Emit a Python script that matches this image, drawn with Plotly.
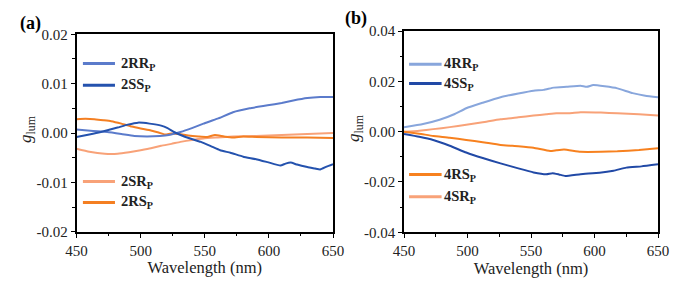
import plotly.graph_objects as go

# ---------------- data ----------------
# panel (a)
wl_2RR = [450, 463, 474, 485, 495, 505, 515, 522, 531, 540, 549, 560, 572, 585, 599, 610, 619, 630, 640, 650]
v_2RR = [0.0007, 0.0004, 0.0002, -0.0002, -0.0006, -0.0007, -0.0006, -0.0004, 0.0002, 0.0010, 0.0019, 0.0029, 0.0042, 0.0050, 0.0056, 0.0061, 0.0066, 0.0071, 0.0073, 0.0073]

wl_2SS = [450, 460, 469, 482, 490, 498, 507, 516, 521, 526, 535, 547, 555, 562, 570, 580, 590, 599, 609, 613, 617, 622, 630, 636, 640, 645, 650]
v_2SS = [-0.0008, -0.0003, 0.0002, 0.0011, 0.0017, 0.0021, 0.0019, 0.0015, 0.0010, 0.0002, -0.0008, -0.0018, -0.0027, -0.0035, -0.0040, -0.0048, -0.0053, -0.0059, -0.0066, -0.0062, -0.0060, -0.0064, -0.0069, -0.0072, -0.0074, -0.0068, -0.0063]

wl_2SR = [450, 460, 472, 482, 491, 500, 508, 516, 524, 531, 540, 549, 560, 572, 590, 610, 630, 650]
v_2SR = [-0.0032, -0.0038, -0.0042, -0.0042, -0.0039, -0.0035, -0.0031, -0.0026, -0.0022, -0.0018, -0.0014, -0.0011, -0.0009, -0.0007, -0.0006, -0.0004, -0.0002, 0.0000]

wl_2RS = [450, 457, 464, 471, 477, 485, 493, 500, 508, 514, 519, 524, 530, 537, 545, 552, 558, 565, 572, 580, 590, 610, 630, 650]
v_2RS = [0.0028, 0.0029, 0.0028, 0.0026, 0.0024, 0.0019, 0.0013, 0.0009, 0.0005, 0.0001, -0.0003, -0.0001, -0.0002, -0.0005, -0.0007, -0.0008, -0.0004, -0.0007, -0.0009, -0.0007, -0.0008, -0.0009, -0.0009, -0.0010]

# panel (b)
wl_4RR = [450, 465, 478, 490, 499, 512, 526, 540, 552, 560, 568, 578, 589, 594, 599, 608, 618, 630, 640, 650]
v_4RR = [0.0017, 0.0030, 0.0047, 0.0070, 0.0093, 0.0115, 0.0137, 0.0152, 0.0163, 0.0166, 0.0175, 0.0178, 0.0182, 0.0178, 0.0185, 0.0180, 0.0172, 0.0153, 0.0143, 0.0137]

wl_4SS = [450, 462, 473, 486, 499, 512, 526, 540, 552, 562, 567, 572, 577, 589, 604, 615, 625, 637, 650]
v_4SS = [-0.0009, -0.0020, -0.0033, -0.0056, -0.0083, -0.0105, -0.0126, -0.0146, -0.0162, -0.0169, -0.0165, -0.0170, -0.0176, -0.0169, -0.0163, -0.0155, -0.0143, -0.0138, -0.0130]

wl_4RS = [450, 462, 473, 486, 499, 512, 526, 540, 552, 565, 570, 576, 589, 605, 618, 635, 650]
v_4RS = [0.0000, -0.0008, -0.0017, -0.0024, -0.0033, -0.0042, -0.0053, -0.0058, -0.0064, -0.0077, -0.0074, -0.0071, -0.0080, -0.0080, -0.0078, -0.0073, -0.0066]

wl_4SR = [450, 462, 473, 486, 499, 512, 526, 540, 552, 562, 570, 580, 589, 605, 618, 635, 650]
v_4SR = [0.0000, 0.0004, 0.0010, 0.0018, 0.0027, 0.0037, 0.0049, 0.0057, 0.0064, 0.0069, 0.0073, 0.0073, 0.0077, 0.0076, 0.0073, 0.0069, 0.0064]

x_ticks = [450, 500, 550, 600, 650]
ya_ticks = [-0.02, -0.01, 0.0, 0.01, 0.02]
ya_labels = ["-0.02", "-0.01", "0.00", "0.01", "0.02"]
yb_ticks = [-0.04, -0.02, 0.0, 0.02, 0.04]
yb_labels = ["-0.04", "-0.02", "0.00", "0.02", "0.04"]

C_2RR = "#5B7BCB"
C_2SS = "#2452AE"
C_2SR = "#F8A278"
C_2RS = "#F47F22"
C_4RR = "#88A6DC"
C_4SS = "#2149A6"
C_4RS = "#F7811F"
C_4SR = "#F8A278"

FONT = "Times New Roman"

# the page body has an 8px margin; the figure is sized to fill the rest of the window
W, H = 676, 280
OFF = 8


def fx(px):
    return (px - OFF) / W


def fy(py):
    return 1 - (py - OFF) / H


fig = go.Figure()


def add(x, y, color, xa, ya):
    fig.add_trace(go.Scatter(x=x, y=y, mode="lines", line=dict(color=color, width=2, shape="spline", smoothing=0.4),
                             xaxis=xa, yaxis=ya, showlegend=False, hoverinfo="skip"))


add(wl_2SR, v_2SR, C_2SR, "x", "y")
add(wl_2RS, v_2RS, C_2RS, "x", "y")
add(wl_2RR, v_2RR, C_2RR, "x", "y")
add(wl_2SS, v_2SS, C_2SS, "x", "y")

add(wl_4SR, v_4SR, C_4SR, "x2", "y2")
add(wl_4RS, v_4RS, C_4RS, "x2", "y2")
add(wl_4RR, v_4RR, C_4RR, "x2", "y2")
add(wl_4SS, v_4SS, C_4SS, "x2", "y2")

axis_common = dict(showline=True, linecolor="black", linewidth=1.6, mirror=True, ticks="outside",
                   ticklen=4, tickwidth=1.4, tickcolor="black", showgrid=False, zeroline=False,
                   automargin=False, tickfont=dict(family=FONT, size=15, color="#222"))

xa_common = dict(axis_common, range=[450, 650], tickvals=x_ticks,
                 minor=dict(ticks="outside", ticklen=2.5, tickwidth=1.2, tickcolor="black", dtick=25, showgrid=False))

fig.update_layout(
    width=W, height=H, margin=dict(l=0, r=0, t=0, b=0, autoexpand=False),
    paper_bgcolor="white", plot_bgcolor="white",
    font=dict(family=FONT),
    xaxis=dict(xa_common, domain=[fx(76.5), fx(333)], anchor="y",
               title=dict(text="Wavelength (nm)", font=dict(family=FONT, size=16.5, color="#222"), standoff=4)),
    yaxis=dict(axis_common, domain=[fy(231.7), fy(34.3)], anchor="x", range=[-0.02, 0.02],
               tickvals=ya_ticks, ticktext=ya_labels,
               minor=dict(ticks="outside", ticklen=2.5, tickwidth=1.2, tickcolor="black", dtick=0.005, showgrid=False)),
    xaxis2=dict(xa_common, domain=[fx(404), fx(658)], anchor="y2",
                title=dict(text="Wavelength (nm)", font=dict(family=FONT, size=16.5, color="#222"), standoff=4)),
    yaxis2=dict(axis_common, domain=[fy(232.3), fy(31)], anchor="x2", range=[-0.04, 0.04],
                tickvals=yb_ticks, ticktext=yb_labels,
                minor=dict(ticks="outside", ticklen=2.5, tickwidth=1.2, tickcolor="black", dtick=0.01, showgrid=False)),
)

# legends (sample lines + text inside each panel)
legend_a = [("2RR", C_2RR, 0.852), ("2SS", C_2SS, 0.742), ("2SR", C_2SR, 0.254), ("2RS", C_2RS, 0.148)]
legend_b = [("4RR", C_4RR, 0.835), ("4SS", C_4SS, 0.739), ("4RS", C_4RS, 0.287), ("4SR", C_4SR, 0.176)]


def legend(entries, xr, yr, x0, x1, xt):
    for name, col, yy in entries:
        fig.add_shape(type="line", xref=xr, yref=yr, x0=x0, x1=x1, y0=yy, y1=yy,
                      line=dict(color=col, width=3))
        fig.add_annotation(xref=xr, yref=yr, x=xt, y=yy, xanchor="left", yanchor="middle",
                           text="<b>%s<sub>P</sub></b>" % name, showarrow=False,
                           font=dict(family=FONT, size=14.5, color="#222"))


legend(legend_a, "x domain", "y domain", 0.025, 0.15, 0.165)
legend(legend_b, "x2 domain", "y2 domain", 0.02, 0.148, 0.15)

# panel letters
fig.add_annotation(xref="paper", yref="paper", x=fx(30), y=fy(23), text="<b>(a)</b>",
                   xanchor="center", yanchor="middle",
                   showarrow=False, font=dict(family=FONT, size=18, color="black"))
fig.add_annotation(xref="paper", yref="paper", x=fx(356), y=fy(19), text="<b>(b)</b>",
                   xanchor="center", yanchor="middle",
                   showarrow=False, font=dict(family=FONT, size=18, color="black"))

# y titles
for xp, yp in [(fx(27), fy(129)), (fx(355), fy(128))]:
    fig.add_annotation(xref="paper", yref="paper", x=xp, y=yp, textangle=-90,
                       xanchor="center", yanchor="middle",
                       text="<i>g</i><sub>lum</sub>", showarrow=False,
                       font=dict(family=FONT, size=17, color="#222"))

fig.write_html("out.html")
